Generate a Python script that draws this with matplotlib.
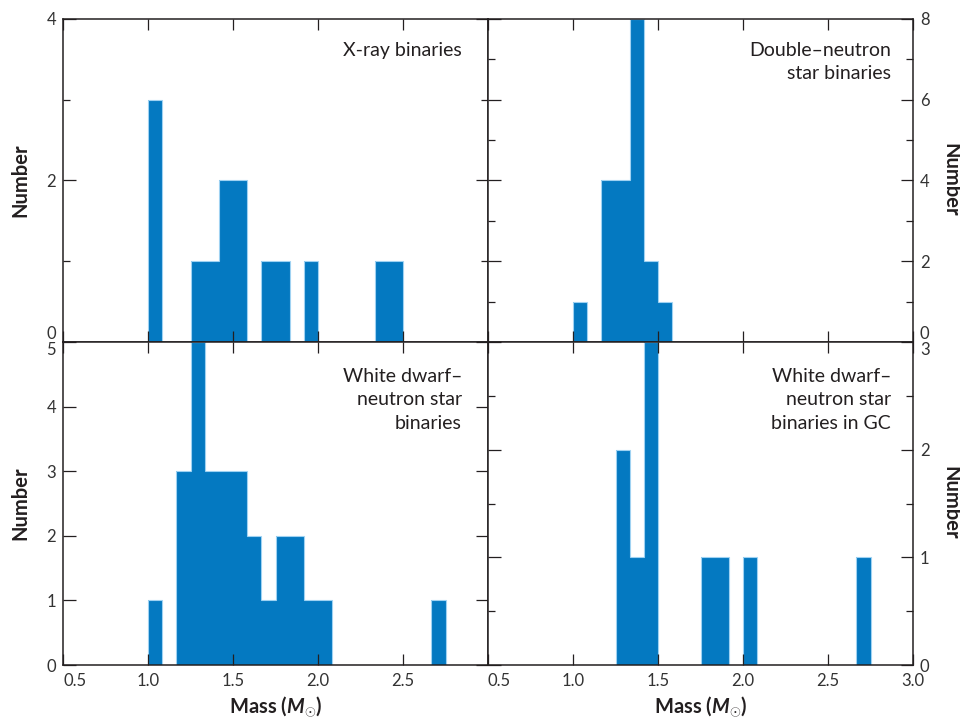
import matplotlib
matplotlib.use("Agg")
import matplotlib.pyplot as plt
from matplotlib import font_manager as fm

plt.rcParams['font.family'] = ['Lato', 'DejaVu Sans']


def italic_bold_family():
    # the italic M of the mass label needs a real bold-italic face
    for fam in ['Lato', 'Open Sans', 'Roboto', 'Noto Sans', 'DejaVu Sans']:
        try:
            path = fm.findfont(fm.FontProperties(family=fam, style='italic', weight='bold'),
                               fallback_to_default=False)
        except ValueError:
            continue
        name = path.lower()
        if fam.split()[0].lower() in name.replace(' ', '') and ('italic' in name or 'oblique' in name):
            return fam
    return 'DejaVu Sans'


plt.rcParams['mathtext.fontset'] = 'custom'
plt.rcParams['mathtext.rm'] = 'Lato:bold'
plt.rcParams['mathtext.it'] = italic_bold_family() + ':bold:italic'
plt.rcParams['mathtext.bf'] = 'Lato:bold'

# mass bin edges (solar masses), bins of 1/12 M_sun
edges = [1.0, 1.0833, 1.1667, 1.25, 1.3333, 1.4167, 1.5, 1.5833, 1.6667, 1.75,
         1.8333, 1.9167, 2.0, 2.0833, 2.1667, 2.25, 2.3333, 2.4167, 2.5, 2.5833,
         2.6667, 2.75]

xray_counts = [3, 0, 0, 1, 1, 2, 2, 0, 1, 1, 0, 1, 0, 0, 0, 0, 1, 1, 0, 0, 0]
dns_counts = [1, 0, 4, 4, 8, 2, 1, 0, 0, 0, 0, 0, 0, 0, 0, 0, 0, 0, 0, 0, 0]
wdns_counts = [1, 0, 3, 5, 3, 3, 3, 2, 1, 2, 2, 1, 1, 0, 0, 0, 0, 0, 0, 0, 1]
gc_counts = [0, 0, 0, 2, 1, 3, 0, 0, 0, 1, 1, 0, 1, 0, 0, 0, 0, 0, 0, 0, 1]

xticks = [0.5, 1.0, 1.5, 2.0, 2.5, 3.0]
xlabels = ['0.5', '1.0', '1.5', '2.0', '2.5', '3.0']

blue = '#0479c1'
edge = '#9fd2f2'
ink = '#231f20'

W, H = 960, 720
fig = plt.figure(figsize=(9.6, 7.2), dpi=100)


def px_axes(x0, y0, x1, y1):
    return fig.add_axes([x0 / W, 1 - y1 / H, (x1 - x0) / W, (y1 - y0) / H])


ax_tl = px_axes(63, 19, 488, 342)
ax_tr = px_axes(488, 19, 913, 342)
ax_bl = px_axes(63, 342, 488, 665)
ax_br = px_axes(488, 342, 913, 665)

panels = [
    (ax_tl, xray_counts, [0, 2, 4], [1, 3], 'left', 'X-ray binaries', 26, 23),
    (ax_tr, dns_counts, [0, 2, 4, 6, 8], [1, 3, 5, 7], 'right',
     'Double\u2013neutron\nstar binaries', 22, 23),
    (ax_bl, wdns_counts, [0, 1, 2, 3, 4, 5], [], 'left',
     'White dwarf\u2013\nneutron star\nbinaries', 26, 26),
    (ax_br, gc_counts, [0, 1, 2, 3], [0.5, 1.5, 2.5], 'right',
     'White dwarf\u2013\nneutron star\nbinaries in GC', 22, 26),
]

for ax, counts, yt, ymin, side, label, xpad, ypad in panels:
    ax.stairs(counts, edges, fill=True, color=blue, zorder=1)
    ax.stairs(counts, edges, color=edge, lw=0.8, zorder=1.1)
    ax.set_xlim(0.5, 3.0)
    ax.set_ylim(0, yt[-1])
    ax.set_xticks(xticks)
    ax.set_yticks(yt)
    ax.set_yticks(ymin, minor=True)
    for s in ax.spines.values():
        s.set_linewidth(1.1)
        s.set_color(ink)
    ax.tick_params(which='both', direction='in', top=True, right=True,
                   left=True, bottom=True, color=ink, width=0.9,
                   labelsize=12, labelcolor='#333333')
    ax.tick_params(which='major', length=9)
    ax.tick_params(which='minor', length=5)
    ax.tick_params(axis='x', which='major', length=8, pad=6)
    if side == 'right':
        ax.tick_params(axis='y', labelleft=False, labelright=True, pad=5)
    else:
        ax.tick_params(axis='y', pad=5)
    ax.annotate(label, xy=(1, 1), xycoords='axes fraction',
                xytext=(-xpad, -ypad), textcoords='offset pixels',
                ha='right', va='top', fontsize=14, color=ink,
                multialignment='right', linespacing=1.45)

# top panels: no x tick labels; zero label nudged up
for ax in (ax_tl, ax_tr):
    ax.tick_params(axis='x', labelbottom=False)
    t = ax.yaxis.get_major_ticks()[0]
    t.label1.set_va('bottom')
    t.label2.set_va('bottom')

ax_bl.set_xticks(xticks[:-1])
ax_bl.set_xticklabels(xlabels[:-1])
ax_br.set_xticklabels(xlabels)

# bottom panels: top label nudged down, mass axis label
for ax in (ax_bl, ax_br):
    t = ax.yaxis.get_major_ticks()[-1]
    t.label1.set_va('top')
    t.label2.set_va('top')
    ax.get_xticklabels()[0].set_ha('left')
    ax.set_xlabel(r'Mass ($M_{\odot}$)', fontsize=14.5,
                  fontweight='bold', color=ink, labelpad=4)

for y in (180, 503):
    fig.text(20 / W, 1 - y / H, 'Number', rotation=90, ha='center', va='center',
             fontsize=14.5, fontweight='bold', color=ink)
    fig.text(950 / W, 1 - y / H, 'Number', rotation=270, ha='center', va='center',
             fontsize=14.5, fontweight='bold', color=ink)

fig.savefig('out.png', dpi=100)
